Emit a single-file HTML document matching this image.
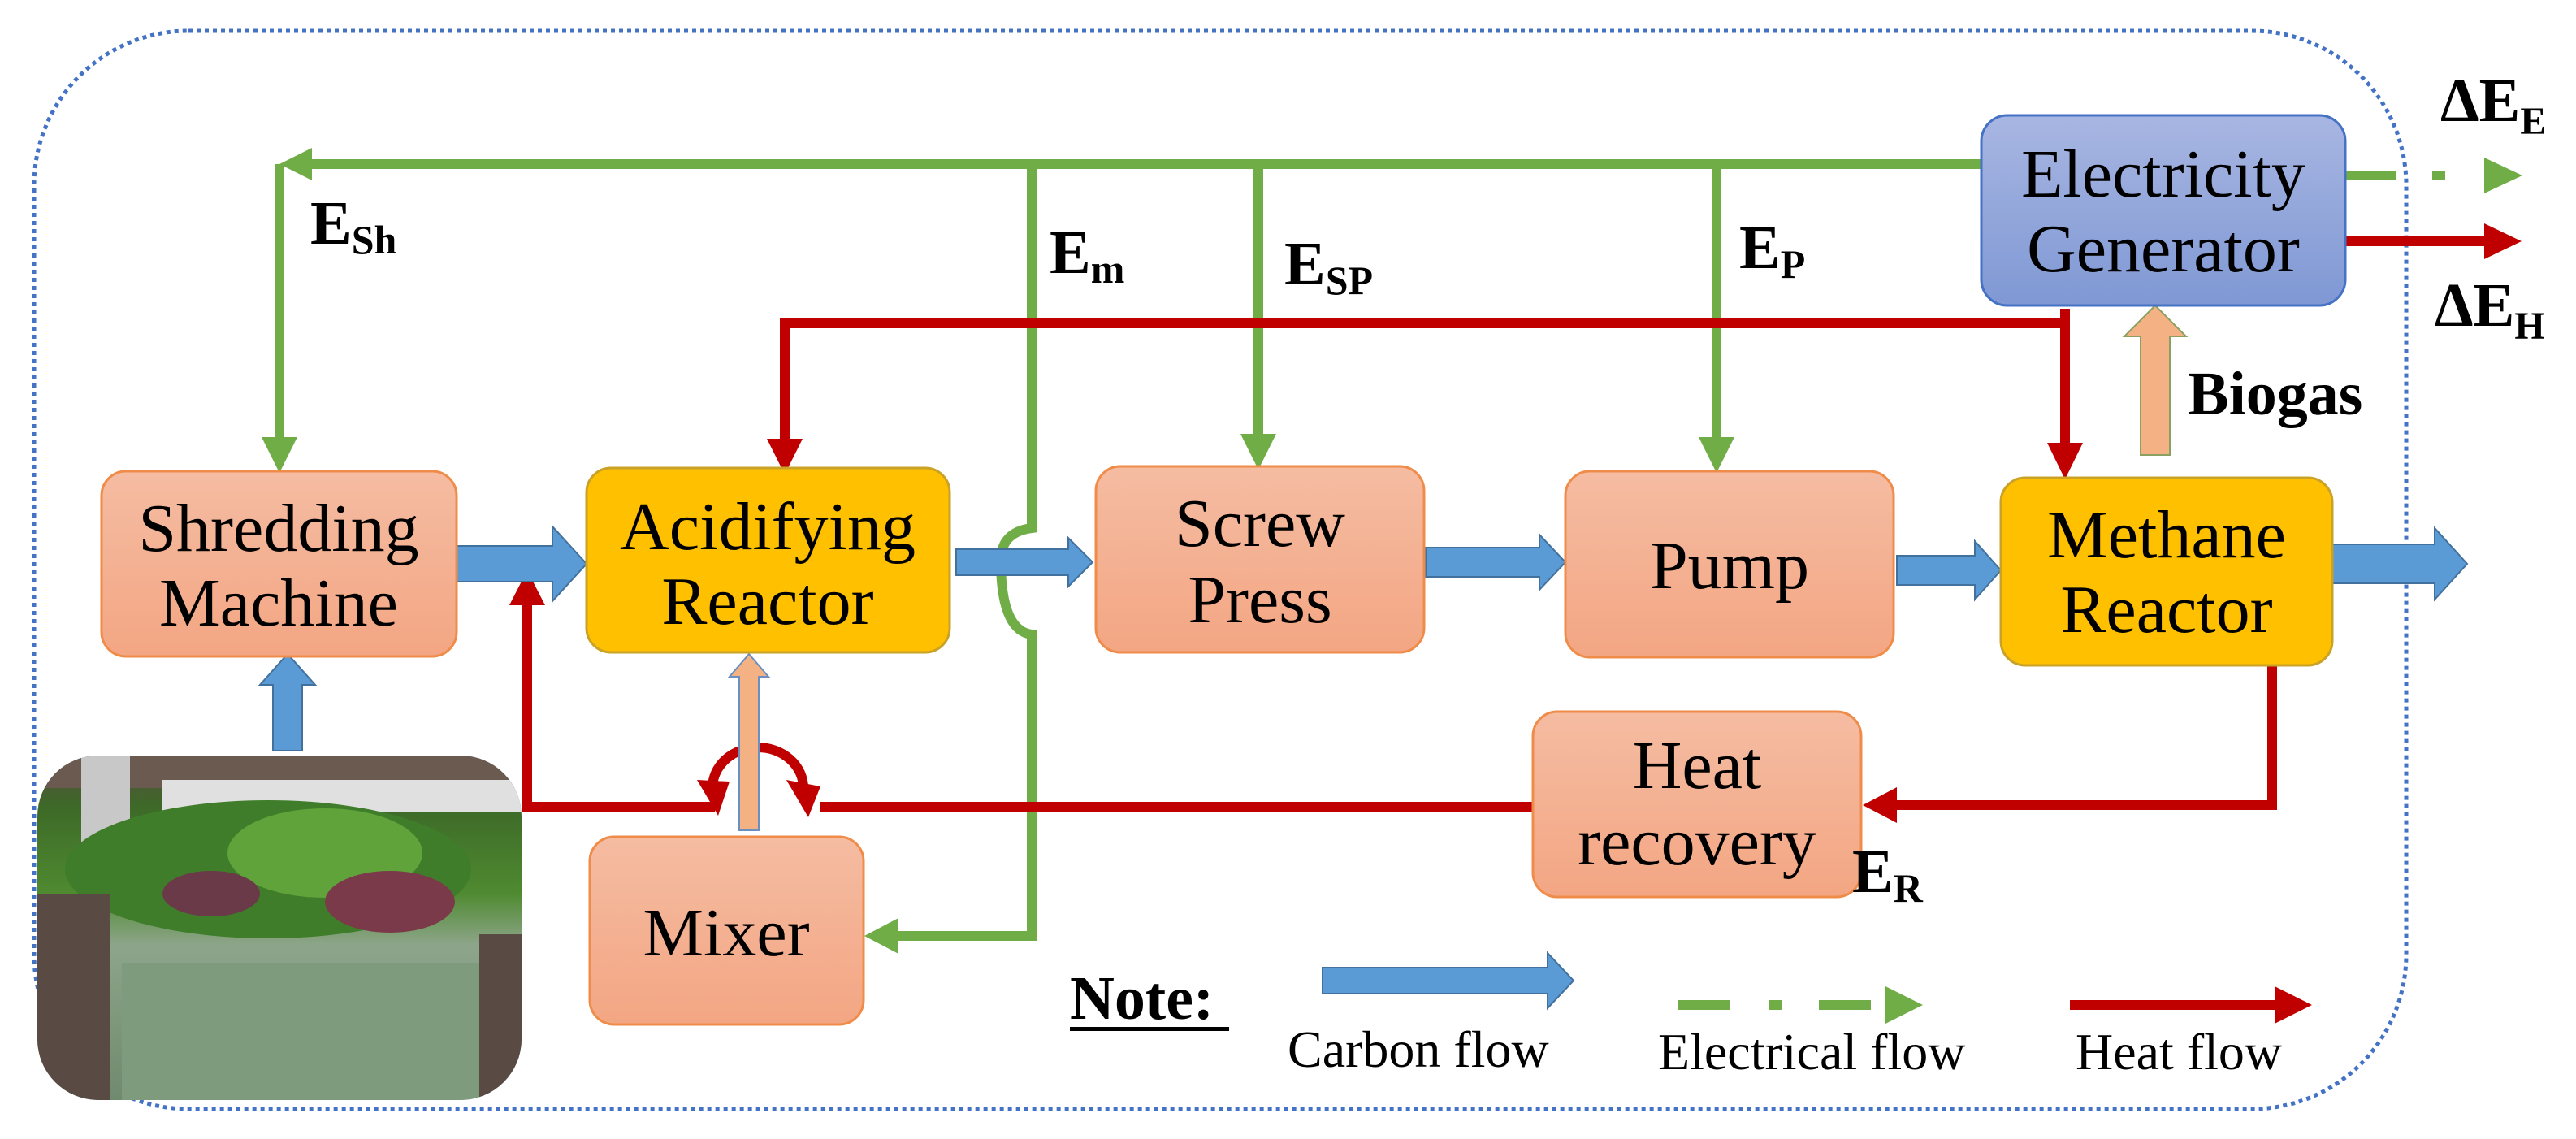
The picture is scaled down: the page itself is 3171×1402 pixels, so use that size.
<!DOCTYPE html>
<html><head><meta charset="utf-8"><style>
html,body{margin:0;padding:0;background:#fff}
svg{display:block}
.bx{font-family:"Liberation Serif",serif;font-size:84px;fill:#000;text-anchor:middle}
.lb{font-family:"Liberation Serif",serif;font-weight:bold;font-size:76px;fill:#000}
.lg{font-family:"Liberation Serif",serif;font-size:64px;fill:#000}
</style></head><body>
<svg width="3171" height="1402" viewBox="0 0 3171 1402" xmlns="http://www.w3.org/2000/svg">
<defs>
<linearGradient id="pe" x1="0" y1="0" x2="0" y2="1"><stop offset="0" stop-color="#F5BCA2"/><stop offset="1" stop-color="#F3A683"/></linearGradient>
<linearGradient id="ge" x1="0" y1="0" x2="0" y2="1"><stop offset="0" stop-color="#A8B6E2"/><stop offset="1" stop-color="#7F98D4"/></linearGradient>
<linearGradient id="ph" x1="0" y1="0" x2="0" y2="1"><stop offset="0" stop-color="#5a4a40"/><stop offset="0.15" stop-color="#3d6a28"/><stop offset="0.4" stop-color="#4f8a30"/><stop offset="0.55" stop-color="#8da58a"/><stop offset="1" stop-color="#6f8a6e"/></linearGradient>
<clipPath id="pc"><rect x="46" y="930" width="596" height="424" rx="75"/></clipPath>
</defs>
<rect x="42" y="38" width="2920" height="1327" rx="190" fill="none" stroke="#4472C4" stroke-width="5" stroke-dasharray="5 5"/>

<g clip-path="url(#pc)">
<rect x="46" y="930" width="596" height="424" fill="url(#ph)"/>
<rect x="46" y="930" width="596" height="40" fill="#6b5a50"/>
<rect x="100" y="930" width="60" height="150" fill="#c8c8c8"/>
<rect x="200" y="960" width="442" height="40" fill="#e0e0e0"/>
<ellipse cx="330" cy="1070" rx="250" ry="85" fill="#3f7d2a"/>
<ellipse cx="400" cy="1050" rx="120" ry="55" fill="#5fa33a"/>
<ellipse cx="480" cy="1110" rx="80" ry="38" fill="#7a3a4a"/>
<ellipse cx="260" cy="1100" rx="60" ry="28" fill="#6a3a48"/>
<rect x="150" y="1185" width="440" height="169" fill="#7f9b7e"/>
<rect x="46" y="1100" width="90" height="254" fill="#5a4a44"/>
<rect x="590" y="1150" width="52" height="204" fill="#5a4a44"/>
</g>

<g stroke="#70AD47" stroke-width="12" fill="none">
<path d="M380 202 H2439"/>
<path d="M344 202 V540"/>
<path d="M1270 202 V650 Q1232 655 1232 690 Q1232 776 1270 781 V1152 H1100"/>
<path d="M1549 202 V540"/>
<path d="M2113 202 V545"/>
<path d="M2887 216 H2950"/>
<path d="M2994 216 H3010"/>
</g>
<g fill="#70AD47">
<polygon points="344,202 384,182 384,222"/>
<polygon points="322,538 366,538 344,582"/>
<polygon points="1527,534 1571,534 1549,578"/>
<polygon points="2091,538 2135,538 2113,582"/>
<polygon points="1064,1152 1106,1130 1106,1174"/>
<polygon points="3058,194 3058,238 3105,216"/>
</g>

<g stroke="#C00000" stroke-width="12" fill="none">
<path d="M966 398 H2542"/>
<path d="M966 392 V545"/>
<path d="M2542 380 V548"/>
<path d="M2887 297 H3060"/>
<path d="M2797 809 V991 H2330"/>
<path d="M1887 993 H1010"/>
<path d="M989 970 A56 50 0 0 0 877 970"/>
<path d="M880 993 H649 V740"/>
</g>
<g fill="#C00000">
<polygon points="944,540 988,540 966,584"/>
<polygon points="2520,545 2564,545 2542,590"/>
<polygon points="3058,275 3058,319 3104,297"/>
<polygon points="2335,969 2335,1013 2293,991"/>
<polygon points="968,960 1010,968 995,1006"/>
<polygon points="858,960 898,962 884,1004"/>
<polygon points="627,745 671,745 649,702"/>
</g>

<g fill="#5B9BD5" stroke="#41719C" stroke-width="2">
<polygon points="550,672 680,672 680,648 722,694 680,740 680,716 550,716"/>
<polygon points="1177,676 1315,676 1315,662 1345,692 1315,722 1315,708 1177,708"/>
<polygon points="1755,674 1895,674 1895,658 1927,692 1895,726 1895,710 1755,710"/>
<polygon points="2335,684 2431,684 2431,666 2463,702 2431,738 2431,720 2335,720"/>
<polygon points="2871,670 2997,670 2997,650 3037,694 2997,738 2997,718 2871,718"/>
<polygon points="336,924 336,843 320,843 354,805 388,843 372,843 372,924"/>
<polygon points="1628,1191 1905,1191 1905,1173 1937,1207 1905,1241 1905,1223 1628,1223"/>
</g>
<g fill="#F4B183" stroke="#6A8FC0" stroke-width="2">
<polygon points="910,1022 910,833 898,833 922,805 946,833 934,833 934,1022"/>
</g>
<g fill="#F4B183" stroke="#8AA060" stroke-width="2">
<polygon points="2635,560 2635,414 2615,414 2653,376 2691,414 2671,414 2671,560"/>
</g>

<g stroke-width="3">
<rect x="125" y="580" width="437" height="228" rx="30" fill="url(#pe)" stroke="#F08C4A"/>
<rect x="722" y="576" width="447" height="227" rx="30" fill="#FFC000" stroke="#C9A227"/>
<rect x="1349" y="574" width="404" height="229" rx="30" fill="url(#pe)" stroke="#F08C4A"/>
<rect x="1927" y="580" width="404" height="229" rx="30" fill="url(#pe)" stroke="#F08C4A"/>
<rect x="2463" y="588" width="408" height="231" rx="30" fill="#FFC000" stroke="#C9A227"/>
<rect x="2439" y="142" width="448" height="234" rx="32" fill="url(#ge)" stroke="#4472C4"/>
<rect x="1887" y="876" width="404" height="228" rx="30" fill="url(#pe)" stroke="#F08C4A"/>
<rect x="726" y="1030" width="337" height="231" rx="30" fill="url(#pe)" stroke="#F08C4A"/>
</g>
<text class="bx" x="343" y="678">Shredding</text><text class="bx" x="343" y="770">Machine</text>
<text class="bx" x="945" y="676">Acidifying</text><text class="bx" x="945" y="768">Reactor</text>
<text class="bx" x="1551" y="672">Screw</text><text class="bx" x="1551" y="766">Press</text>
<text class="bx" x="2129" y="724">Pump</text>
<text class="bx" x="2667" y="686">Methane</text><text class="bx" x="2667" y="778">Reactor</text>
<text class="bx" x="2663" y="242">Electricity</text><text class="bx" x="2663" y="334">Generator</text>
<text class="bx" x="2089" y="970">Heat</text><text class="bx" x="2089" y="1064">recovery</text>
<text class="bx" x="894" y="1176">Mixer</text>

<text class="lb" x="382" y="300">E<tspan font-size="50" dy="12">Sh</tspan></text>
<text class="lb" x="1292" y="336">E<tspan font-size="50" dy="12">m</tspan></text>
<text class="lb" x="1581" y="350">E<tspan font-size="50" dy="12">SP</tspan></text>
<text class="lb" x="2141" y="330">E<tspan font-size="50" dy="12">P</tspan></text>
<text class="lb" x="2693" y="510">Biogas</text>
<text class="lb" x="3004" y="149" font-size="72">ΔE<tspan font-size="48" dy="16">E</tspan></text>
<text class="lb" x="2997" y="401" font-size="72">ΔE<tspan font-size="48" dy="16">H</tspan></text>
<text class="lb" x="2280" y="1098">E<tspan font-size="50" dy="12">R</tspan></text>

<text class="lb" x="1317" y="1254">Note:</text>
<rect x="1317" y="1264" width="196" height="5" fill="#000"/>
<g stroke="#70AD47" stroke-width="12"><path d="M2066 1237 H2130 M2178 1237 H2193 M2239 1237 H2303"/></g>
<polygon points="2321,1214 2321,1260 2367,1237" fill="#70AD47"/>
<path d="M2548 1237 H2806" stroke="#C00000" stroke-width="12"/>
<polygon points="2800,1214 2800,1260 2846,1237" fill="#C00000"/>
<text class="lg" x="1585" y="1313">Carbon flow</text>
<text class="lg" x="2041" y="1316" font-size="66">Electrical flow</text>
<text class="lg" x="2555" y="1316">Heat flow</text>
</svg>
</body></html>
